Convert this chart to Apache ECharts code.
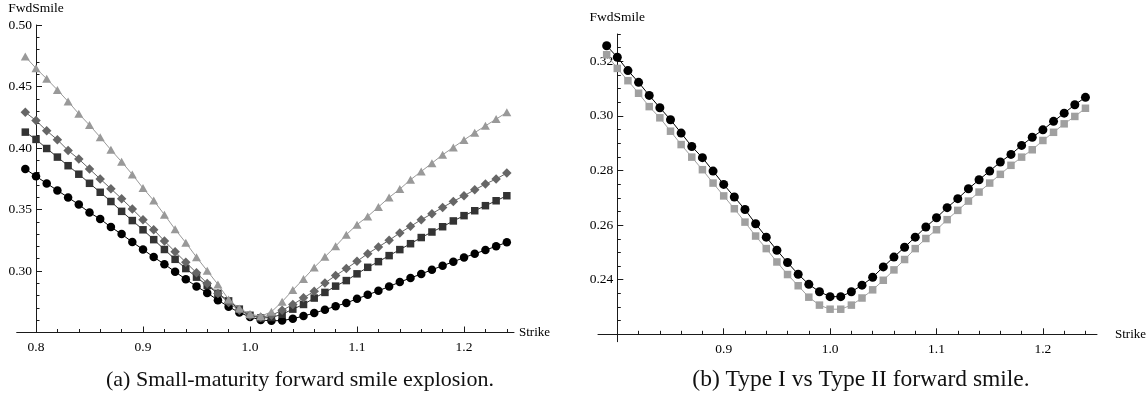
<!DOCTYPE html>
<html>
<head>
<meta charset="utf-8">
<script src="https://cdn.jsdelivr.net/npm/echarts@6/dist/echarts.min.js"></script>
<style>html,body{margin:0;padding:0;background:#fff}#c{width:1146px;height:406px}</style>
</head>
<body>
<div id="c"></div>
<script>
// ---------- data ----------
const strikes = [0.79,0.80,0.81,0.82,0.83,0.84,0.85,0.86,0.87,0.88,0.89,0.90,0.91,0.92,0.93,0.94,0.95,0.96,0.97,0.98,0.99,1.00,1.01,1.02,1.03,1.04,1.05,1.06,1.07,1.08,1.09,1.10,1.11,1.12,1.13,1.14,1.15,1.16,1.17,1.18,1.19,1.20,1.21,1.22,1.23,1.24];

// (a) small-maturity forward smile explosion
const smileCircle = [0.3830,0.3770,0.3712,0.3655,0.3598,0.3540,0.3475,0.3423,0.3357,0.3300,0.3235,0.3175,0.3113,0.3055,0.2994,0.2933,0.2875,0.2822,0.2763,0.2710,0.2662,0.2627,0.2602,0.2595,0.2597,0.2612,0.2634,0.2658,0.2685,0.2714,0.2740,0.2774,0.2806,0.2839,0.2874,0.2910,0.2943,0.2976,0.3010,0.3043,0.3075,0.3109,0.3140,0.3170,0.3201,0.3233];
const smileSquare = [0.4129,0.4070,0.3996,0.3926,0.3856,0.3787,0.3713,0.3640,0.3565,0.3485,0.3410,0.3335,0.3255,0.3175,0.3095,0.3020,0.2950,0.2882,0.2818,0.2757,0.2690,0.2640,0.2618,0.2622,0.2648,0.2690,0.2728,0.2780,0.2826,0.2877,0.2922,0.2977,0.3030,0.3076,0.3125,0.3174,0.3222,0.3272,0.3317,0.3360,0.3407,0.3450,0.3490,0.3531,0.3571,0.3612];
const smileDiamond = [0.4291,0.4223,0.4140,0.4067,0.3980,0.3910,0.3829,0.3748,0.3669,0.3588,0.3504,0.3417,0.3336,0.3244,0.3156,0.3071,0.2985,0.2899,0.2818,0.2743,0.2680,0.2638,0.2625,0.2640,0.2680,0.2727,0.2782,0.2835,0.2903,0.2963,0.3020,0.3079,0.3141,0.3196,0.3250,0.3309,0.3363,0.3417,0.3466,0.3517,0.3566,0.3612,0.3660,0.3707,0.3748,0.3796];
const smileTriangle = [0.4743,0.4648,0.4562,0.4472,0.4378,0.4278,0.4186,0.4088,0.3985,0.3888,0.3785,0.3674,0.3573,0.3458,0.3339,0.3230,0.3112,0.3002,0.2891,0.2769,0.2695,0.2650,0.2632,0.2668,0.2750,0.2845,0.2935,0.3029,0.3115,0.3201,0.3295,0.3377,0.3444,0.3520,0.3598,0.3666,0.3742,0.3809,0.3877,0.3945,0.4005,0.4065,0.4125,0.4180,0.4235,0.4290];

// (b) Type I vs Type II forward smile
const typeI = [0.3257,0.3215,0.3166,0.3123,0.3075,0.3030,0.2986,0.2937,0.2888,0.2847,0.2798,0.2749,0.2703,0.2657,0.2605,0.2556,0.2508,0.2463,0.2420,0.2383,0.2356,0.2338,0.2338,0.2356,0.2380,0.2409,0.2447,0.2483,0.2519,0.2556,0.2593,0.2627,0.2664,0.2697,0.2733,0.2766,0.2798,0.2831,0.2859,0.2892,0.2922,0.2949,0.2980,0.3010,0.3041,0.3068];
const typeII = [0.3224,0.3174,0.3129,0.3083,0.3034,0.2993,0.2944,0.2895,0.2849,0.2803,0.2754,0.2707,0.2660,0.2611,0.2560,0.2514,0.2465,0.2419,0.2378,0.2336,0.2307,0.2292,0.2292,0.2307,0.2333,0.2363,0.2398,0.2436,0.2474,0.2514,0.2551,0.2583,0.2620,0.2654,0.2688,0.2721,0.2754,0.2786,0.2819,0.2849,0.2876,0.2910,0.2940,0.2971,0.2998,0.3028];

// tick values
const xMajorA = [0.8,0.9,1.0,1.1,1.2];
const xMajorB = [0.9,1.0,1.1,1.2];
const xMinor = [0.82,0.84,0.86,0.88,0.92,0.94,0.96,0.98,1.02,1.04,1.06,1.08,1.12,1.14,1.16,1.18,1.22,1.24];
const yMajorB = [0.24,0.26,0.28,0.30,0.32];
const yMinorB = [0.225,0.23,0.235,0.245,0.25,0.255,0.265,0.27,0.275,0.285,0.29,0.295,0.305,0.31,0.315,0.325,0.33];
const captionA = '(a) Small-maturity forward smile explosion.';
const captionB = '(b) Type I vs Type II forward smile.';

// ---------- chart ----------
const FONT = "'Liberation Serif', 'Times New Roman', serif";
const AXC = '#1a1a1a';
const pairs = v => strikes.map((k, i) => [k, v[i]]);

const labelStyle = {fontFamily: FONT, fontSize: 13.5, color: '#000'};

function mainX(grid, min, max, labels, offset, gap) {
  return {
    type: 'value', gridIndex: grid, position: 'bottom', min: min, max: max, offset: offset,
    axisLine: {show: true, onZero: false, lineStyle: {color: AXC, width: 1}},
    axisTick: {show: true, inside: true, length: 6, customValues: labels, lineStyle: {color: AXC}},
    axisLabel: Object.assign({show: true, customValues: labels, margin: 8, formatter: v => v.toFixed(1)}, labelStyle),
    splitLine: {show: false},
    name: 'Strike', nameLocation: 'end', nameGap: gap,
    nameTextStyle: {fontFamily: FONT, fontSize: 13, color: '#000', padding: [3, 0, 0, 0]}
  };
}
function minorX(grid, min, max, offset) {
  return {
    type: 'value', gridIndex: grid, position: 'bottom', min: min, max: max, offset: offset,
    axisLine: {show: false, onZero: false},
    axisTick: {show: true, inside: true, length: 3.5, customValues: xMinor, lineStyle: {color: AXC}},
    axisLabel: {show: false}, splitLine: {show: false}
  };
}

const option = {
  animation: false,
  backgroundColor: '#fff',
  grid: [
    {left: 16.7, top: 25, width: 497.3, height: 307.5, outerBoundsMode: 'none', containLabel: false},
    {left: 598, top: 34, width: 499, height: 307.7, outerBoundsMode: 'none', containLabel: false}
  ],
  xAxis: [
    mainX(0, 0.78196, 1.2467, xMajorA, 0, 5),
    minorX(0, 0.78196, 1.2467, 0),
    mainX(1, 0.78186, 1.25085, xMajorB, -7.4, 18),
    minorX(1, 0.78186, 1.25085, -7.4)
  ],
  yAxis: [
    {
      type: 'value', gridIndex: 0, position: 'left', min: 0.25, max: 0.5, interval: 0.05, offset: -19.3,
      axisLine: {show: true, onZero: false, lineStyle: {color: AXC, width: 1}},
      axisTick: {show: true, inside: true, length: 6, lineStyle: {color: AXC}},
      minorTick: {show: true, splitNumber: 5, length: 3.5, lineStyle: {color: AXC}},
      axisLabel: Object.assign({margin: 4, showMinLabel: false, formatter: v => v.toFixed(2)}, labelStyle),
      splitLine: {show: false}, minorSplitLine: {show: false},
      name: 'FwdSmile', nameLocation: 'end', nameGap: 10,
      nameTextStyle: {fontFamily: FONT, fontSize: 13.5, color: '#000'}
    },
    {
      type: 'value', gridIndex: 1, position: 'left', min: 0.2173, max: 0.33, offset: -19.3,
      axisLine: {show: true, onZero: false, lineStyle: {color: AXC, width: 1}},
      axisTick: {show: true, inside: true, length: 6, customValues: yMajorB, lineStyle: {color: AXC}},
      axisLabel: Object.assign({margin: 4, customValues: yMajorB, formatter: v => v.toFixed(2)}, labelStyle),
      splitLine: {show: false},
      name: 'FwdSmile', nameLocation: 'end', nameGap: 10,
      nameTextStyle: {fontFamily: FONT, fontSize: 13.5, color: '#000'}
    },
    {
      type: 'value', gridIndex: 1, position: 'left', min: 0.2173, max: 0.33, offset: -19.3,
      axisLine: {show: false, onZero: false},
      axisTick: {show: true, inside: true, length: 3.5, customValues: yMinorB, lineStyle: {color: AXC}},
      axisLabel: {show: false}, splitLine: {show: false}
    }
  ],
  series: [
    {type: 'line', xAxisIndex: 0, yAxisIndex: 0, data: pairs(smileCircle), symbol: 'circle', symbolSize: 8.5, showAllSymbol: true,
     itemStyle: {color: '#000'}, lineStyle: {color: '#000', width: 1}, z: 2},
    {type: 'line', xAxisIndex: 0, yAxisIndex: 0, data: pairs(smileSquare), symbol: 'rect', symbolSize: 7.5, showAllSymbol: true,
     itemStyle: {color: '#333'}, lineStyle: {color: '#333', width: 1}, z: 3},
    {type: 'line', xAxisIndex: 0, yAxisIndex: 0, data: pairs(smileDiamond), symbol: 'diamond', symbolSize: 9.5, showAllSymbol: true,
     itemStyle: {color: '#666'}, lineStyle: {color: '#666', width: 1}, z: 4},
    {type: 'line', xAxisIndex: 0, yAxisIndex: 0, data: pairs(smileTriangle), symbol: 'triangle', symbolSize: [9, 8], showAllSymbol: true,
     itemStyle: {color: '#999'}, lineStyle: {color: '#999', width: 1}, z: 5},
    {type: 'line', xAxisIndex: 2, yAxisIndex: 1, data: pairs(typeII), symbol: 'rect', symbolSize: 7.5, showAllSymbol: true,
     itemStyle: {color: '#a0a0a0'}, lineStyle: {color: '#a0a0a0', width: 1}, z: 2},
    {type: 'line', xAxisIndex: 2, yAxisIndex: 1, data: pairs(typeI), symbol: 'circle', symbolSize: 9, showAllSymbol: true,
     itemStyle: {color: '#000'}, lineStyle: {color: '#000', width: 1}, z: 3}
  ],
  graphic: [
    {type: 'text', x: 300, y: 380, style: {text: captionA, font: "22px 'Liberation Serif', serif", fill: '#111', align: 'center', verticalAlign: 'middle'}},
    {type: 'text', x: 861, y: 380, style: {text: captionB, font: "23.5px 'Liberation Serif', serif", fill: '#111', align: 'center', verticalAlign: 'middle'}}
  ]
};

const chart = echarts.init(document.getElementById('c'), null, {renderer: 'canvas'});
chart.setOption(option);
</script>
</body>
</html>
